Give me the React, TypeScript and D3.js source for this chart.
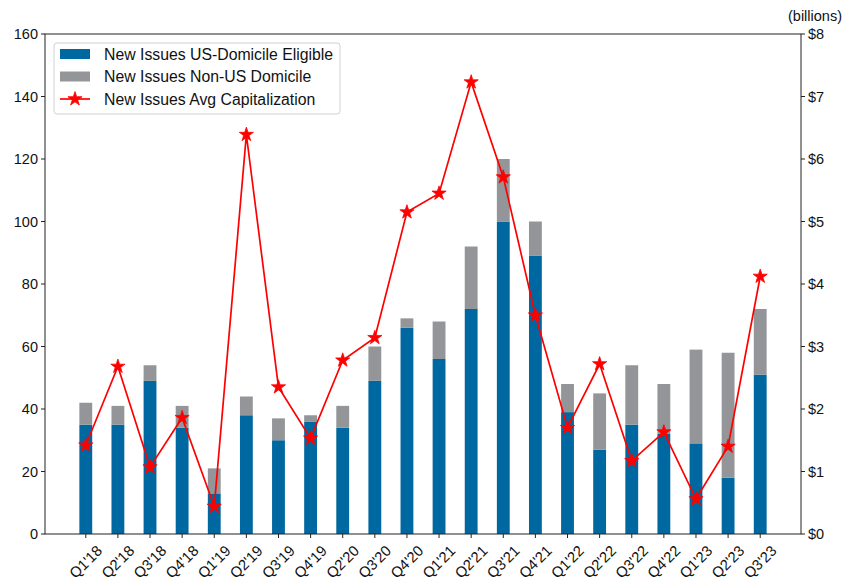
import * as d3 from "d3";

const quarters = [
  "Q1'18", "Q2'18", "Q3'18", "Q4'18", "Q1'19", "Q2'19", "Q3'19", "Q4'19",
  "Q2'20", "Q3'20", "Q4'20", "Q1'21", "Q2'21", "Q3'21", "Q4'21",
  "Q1'22", "Q2'22", "Q3'22", "Q4'22", "Q1'23", "Q2'23", "Q3'23",
];
const usEligible = [35, 35, 49, 34, 13, 38, 30, 36, 34, 49, 66, 56, 72, 100, 89, 39, 27, 35, 32, 29, 18, 51];
const nonUs = [7, 6, 5, 7, 8, 6, 7, 2, 7, 11, 3, 12, 20, 20, 11, 9, 18, 19, 16, 30, 40, 21];
const avgCap = [1.42, 2.68, 1.07, 1.86, 0.44, 6.39, 2.35, 1.53, 2.78, 3.14, 5.15, 5.45, 7.23, 5.71, 3.5, 1.7, 2.72, 1.17, 1.63, 0.56, 1.4, 4.12];
const leftTicks = [0, 20, 40, 60, 80, 100, 120, 140, 160];
const rightTicks = [0, 1, 2, 3, 4, 5, 6, 7, 8];
const legendItems = [
  "New Issues US-Domicile Eligible",
  "New Issues Non-US Domicile",
  "New Issues Avg Capitalization",
];

const BLUE = "#0068a0";
const GRAY = "#939598";
const RED = "#ff0000";
const FONT = "'Liberation Sans', Arial, sans-serif";

export default function App() {
  const width = 848;
  const height = 582;
  const m = { left: 45, right: 801, top: 34, bottom: 534 };

  const x = d3.scaleLinear().domain([-1.27, quarters.length - 1 + 1.27]).range([m.left, m.right]);
  const y = d3.scaleLinear().domain([0, 160]).range([m.bottom, m.top]);
  const y2 = d3.scaleLinear().domain([0, 8]).range([m.bottom, m.top]);
  const barW = x(0.4) - x(0);

  const star = d3.symbol().type(d3.symbolStar).size(62)();
  const line = d3.line<number>().x((_, i) => x(i)).y((d) => y2(d));

  return (
    <svg
      width={width}
      height={height}
      style={{ position: "fixed", left: 0, top: 0, background: "white" }}
      fontFamily={FONT}
    >
      {/* bars */}
      {quarters.map((q, i) => (
        <g key={q}>
          <rect x={x(i) - barW / 2} y={y(usEligible[i])} width={barW} height={y(0) - y(usEligible[i])} fill={BLUE} />
          <rect
            x={x(i) - barW / 2}
            y={y(usEligible[i] + nonUs[i])}
            width={barW}
            height={y(usEligible[i]) - y(usEligible[i] + nonUs[i])}
            fill={GRAY}
          />
        </g>
      ))}

      {/* avg cap line */}
      <path d={line(avgCap) || ""} fill="none" stroke={RED} strokeWidth={1.7} />
      {avgCap.map((v, i) => (
        <path key={i} d={star} transform={`translate(${x(i)},${y2(v)})`} fill={RED} stroke={RED} strokeWidth={0.8} />
      ))}

      {/* frame */}
      <rect x={m.left} y={m.top} width={m.right - m.left} height={m.bottom - m.top} fill="none" stroke="#222" strokeWidth={1} />

      {/* left axis */}
      {leftTicks.map((t) => (
        <g key={t} transform={`translate(0,${y(t)})`}>
          <line x1={m.left - 4} x2={m.left} stroke="#222" />
          <text x={m.left - 7} dy="0.35em" textAnchor="end" fontSize={14.5} fill="#111">{t}</text>
        </g>
      ))}

      {/* right axis */}
      {rightTicks.map((t) => (
        <g key={t} transform={`translate(0,${y2(t)})`}>
          <line x1={m.right} x2={m.right + 4} stroke="#222" />
          <text x={m.right + 7} dy="0.35em" textAnchor="start" fontSize={14.5} fill="#111">{"$" + t}</text>
        </g>
      ))}
      <text x={842} y={21} textAnchor="end" fontSize={14.5} fill="#111">(billions)</text>

      {/* x axis */}
      {quarters.map((q, i) => (
        <g key={q}>
          <line x1={x(i)} x2={x(i)} y1={m.bottom} y2={m.bottom + 4} stroke="#222" />
          <text
            transform={`translate(${x(i)},${m.bottom + 28}) rotate(-45)`}
            textAnchor="middle"
            dominantBaseline="central"
            fontSize={14.8}
            fill="#111"
          >
            {q}
          </text>
        </g>
      ))}

      {/* legend */}
      <g>
        <rect x={54} y={43} width={286} height={71} rx={3} fill="white" fillOpacity={0.85} stroke="#d0d0d0" />
        {legendItems.map((label, i) => {
          const cy = 54 + i * 22.5;
          return (
            <g key={label}>
              {i < 2 ? (
                <rect x={60} y={cy - 5} width={30} height={10} fill={i === 0 ? BLUE : GRAY} />
              ) : (
                <g>
                  <line x1={60} x2={90} y1={cy} y2={cy} stroke={RED} strokeWidth={1.7} />
                  <path d={star} transform={`translate(75,${cy})`} fill={RED} stroke={RED} strokeWidth={0.8} />
                </g>
              )}
              <text x={104} y={cy} dy="0.35em" fontSize={15.8} fill="#111">{label}</text>
            </g>
          );
        })}
      </g>
    </svg>
  );
}
